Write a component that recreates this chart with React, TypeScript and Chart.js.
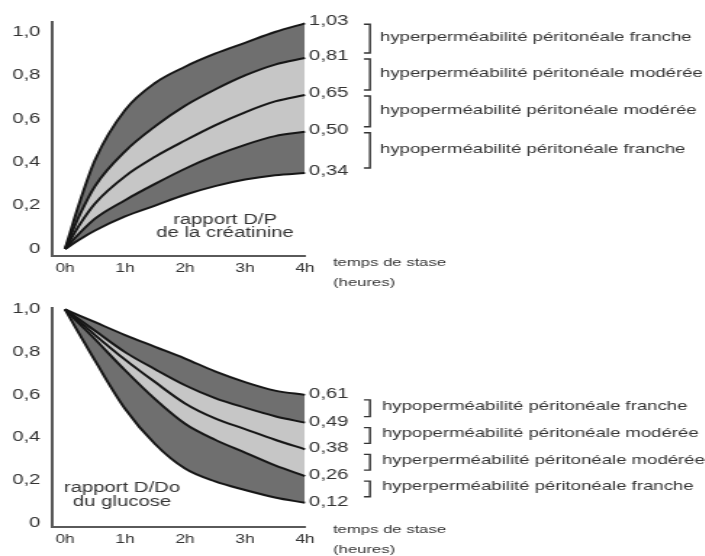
import React, { useEffect, useRef } from 'react';
import { Chart, registerables } from 'chart.js';

Chart.register(...registerables);

// ---------- data ----------
const hours = [0, 0.25, 0.5, 1, 1.5, 2, 2.5, 3, 3.5, 4];

const creatinine1 = [0, 0.22, 0.41, 0.64, 0.765, 0.84, 0.9, 0.95, 1.0, 1.04];
const creatinine2 = [0, 0.16, 0.29, 0.45, 0.565, 0.66, 0.735, 0.8, 0.85, 0.88];
const creatinine3 = [0, 0.115, 0.21, 0.335, 0.425, 0.5, 0.57, 0.63, 0.68, 0.71];
const creatinine4 = [0, 0.075, 0.14, 0.225, 0.3, 0.37, 0.43, 0.48, 0.52, 0.54];
const creatinine5 = [0, 0.045, 0.085, 0.15, 0.2, 0.25, 0.29, 0.32, 0.34, 0.35];

const glucose1 = [1.0, 0.97, 0.94, 0.88, 0.825, 0.77, 0.71, 0.66, 0.62, 0.6];
const glucose2 = [1.0, 0.95, 0.9, 0.8, 0.72, 0.645, 0.585, 0.54, 0.5, 0.47];
const glucose3 = [1.0, 0.94, 0.88, 0.765, 0.66, 0.56, 0.49, 0.44, 0.39, 0.345];
const glucose4 = [1.0, 0.93, 0.86, 0.715, 0.58, 0.465, 0.39, 0.33, 0.27, 0.22];
const glucose5 = [1.0, 0.88, 0.76, 0.535, 0.37, 0.255, 0.195, 0.155, 0.12, 0.095];

const creatinineEndLabels = ['1,03', '0,81', '0,65', '0,50', '0,34'];
const glucoseEndLabels = ['0,61', '0,49', '0,38', '0,26', '0,12'];

const creatinineBands = [
  'hyperperméabilité péritonéale franche',
  'hyperperméabilité péritonéale modérée',
  'hypoperméabilité péritonéale modérée',
  'hypoperméabilité péritonéale franche',
];
const glucoseBands = [
  'hypoperméabilité péritonéale franche',
  'hypoperméabilité péritonéale modérée',
  'hyperperméabilité péritonéale modérée',
  'hyperperméabilité péritonéale franche',
];

const creatinineTitle = ['rapport D/P', 'de la créatinine'];
const glucoseTitle = ['rapport D/Do', 'du glucose'];
const axisTitle = ['temps de stase', '(heures)'];

const xTickValues = [0, 1, 2, 3, 4];
const xTickLabels = ['0h', '1h', '2h', '3h', '4h'];
const yTickValues = [0, 0.2, 0.4, 0.6, 0.8, 1.0];
const yTickLabels = ['0', '0,2', '0,4', '0,6', '0,8', '1,0'];

// ---------- style ----------
const S = 1.45; // horizontal stretch of the picture
const PAGE_W = 705;
const W = Math.round(PAGE_W / S);
const DARK = '#6f6f6f';
const LIGHT = '#c6c6c6';
const LINE = '#161616';
const AXIS = '#5a5a5a';
const TEXT = '#333333';
const FONT = '"Liberation Sans", Arial, Helvetica, sans-serif';
const AREA_LEFT = 52;
const AREA_RIGHT = 305;
const X0 = 65;

type Panel = {
  series: number[][];
  endLabels: string[];
  bandLabels: string[];
  titleLines: string[];
  canvasTop: number;
  canvasH: number;
  areaTop: number;
  areaBottom: number;
  zeroY: number;
  pxPerUnit: number;
  titleX: number;
  titleY: number[];
  bracketIn: [number, number];
  descDx: number;
  descDy: number;
  labelDy: number;
  axisTitleY: number[];
};

const panels: Panel[] = [
  {
    series: [creatinine1, creatinine2, creatinine3, creatinine4, creatinine5],
    endLabels: creatinineEndLabels,
    bandLabels: creatinineBands,
    titleLines: creatinineTitle,
    canvasTop: 0,
    canvasH: 292,
    areaTop: 22,
    areaBottom: 256,
    zeroY: 249,
    pxPerUnit: 217,
    titleX: 225,
    titleY: [220, 233],
    bracketIn: [3, 3],
    descDx: 75,
    descDy: -1,
    labelDy: -2,
    axisTitleY: [263, 283],
  },
  {
    series: [glucose1, glucose2, glucose3, glucose4, glucose5],
    endLabels: glucoseEndLabels,
    bandLabels: glucoseBands,
    titleLines: glucoseTitle,
    canvasTop: 292,
    canvasH: 264,
    areaTop: 302,
    areaBottom: 527,
    zeroY: 523,
    pxPerUnit: 220,
    titleX: 122,
    titleY: [488, 502],
    bracketIn: [6, 5],
    descDx: 77,
    descDy: -2,
    labelDy: -1,
    axisTitleY: [530, 550],
  },
];

function makeAnnot(p: Panel) {
  return {
    id: 'annot',
    afterDraw(chart: any) {
      const ctx = chart.ctx as CanvasRenderingContext2D;
      const a = chart.chartArea;
      const off = p.canvasTop;
      ctx.save();
      ctx.fillStyle = TEXT;
      ctx.strokeStyle = TEXT;
      ctx.textBaseline = 'middle';
      ctx.textAlign = 'left';
      ctx.font = `14px ${FONT}`;
      const ys: number[] = [];
      chart.data.datasets.forEach((_: any, i: number) => {
        const meta = chart.getDatasetMeta(i);
        const pt = meta.data[meta.data.length - 1];
        const y = pt.y + p.labelDy;
        ys.push(y);
        ctx.fillText(p.endLabels[i], pt.x + 4 / S, y);
      });
      const bx = a.right + 65 / S;
      const tick = 6 / S;
      ctx.lineWidth = 1.4;
      ctx.font = `12.8px ${FONT}`;
      for (let i = 0; i < p.bandLabels.length; i++) {
        const t = ys[i] + p.bracketIn[0];
        const b = ys[i + 1] - p.bracketIn[1];
        ctx.beginPath();
        ctx.moveTo(bx - tick, t);
        ctx.lineTo(bx, t);
        ctx.lineTo(bx, b);
        ctx.lineTo(bx - tick, b);
        ctx.stroke();
        ctx.fillText(p.bandLabels[i], a.right + p.descDx / S, (t + b) / 2 + p.descDy);
      }
      ctx.font = `14px ${FONT}`;
      ctx.textAlign = 'center';
      p.titleLines.forEach((s, i) => {
        ctx.fillText(s, a.left + (p.titleX - AREA_LEFT) / S, p.titleY[i] - off);
      });
      ctx.font = `11.5px ${FONT}`;
      ctx.textAlign = 'left';
      axisTitle.forEach((s, i) => {
        ctx.fillText(s, a.right + 28 / S, p.axisTitleY[i] - off);
      });
      ctx.restore();
    },
  };
}

function makeConfig(p: Panel): any {
  const fills = [DARK, LIGHT, LIGHT, DARK, 'rgba(0,0,0,0)'];
  const datasets = p.series.map((vals, i) => ({
    data: hours.map((h, j) => ({ x: h, y: vals[j] })),
    borderColor: LINE,
    borderWidth: 2,
    pointRadius: 0,
    cubicInterpolationMode: 'monotone',
    fill: i < p.series.length - 1 ? '+1' : false,
    backgroundColor: fills[i],
    clip: false,
  }));
  const yMin = -(p.areaBottom - p.zeroY) / p.pxPerUnit;
  const yMax = (p.zeroY - p.areaTop) / p.pxPerUnit;
  const pxPerHour = (AREA_RIGHT - X0) / 4;
  const xMin = -(X0 - AREA_LEFT) / pxPerHour;
  return {
    type: 'line',
    data: { datasets },
    options: {
      animation: false,
      responsive: false,
      devicePixelRatio: 1,
      layout: {
        padding: { left: 0, right: W - AREA_RIGHT / S, top: p.areaTop - p.canvasTop, bottom: 0 },
      },
      plugins: {
        legend: { display: false },
        tooltip: { enabled: false },
        filler: { drawTime: 'beforeDatasetsDraw' },
      },
      scales: {
        x: {
          type: 'linear',
          min: xMin,
          max: 4,
          grid: { display: false, drawTicks: false },
          border: { display: true, color: AXIS, width: 2 },
          afterBuildTicks: (s: any) => {
            s.ticks = xTickValues.map((v) => ({ value: v }));
          },
          afterFit: (s: any) => {
            s.height = p.canvasTop + p.canvasH - p.areaBottom;
          },
          ticks: {
            callback: (_v: any, i: number) => xTickLabels[i],
            font: { size: 12, family: FONT },
            color: TEXT,
            padding: 5,
            maxRotation: 0,
            autoSkip: false,
          },
        },
        y: {
          type: 'linear',
          min: yMin,
          max: yMax,
          grid: { display: false, drawTicks: false },
          border: { display: true, color: AXIS, width: 2 },
          afterBuildTicks: (s: any) => {
            s.ticks = yTickValues.map((v) => ({ value: v }));
          },
          afterFit: (s: any) => {
            s.width = AREA_LEFT / S;
          },
          ticks: {
            callback: (_v: any, i: number) => yTickLabels[i],
            font: { size: 14, family: FONT },
            color: TEXT,
            padding: 8,
            autoSkip: false,
          },
        },
      },
    },
    plugins: [makeAnnot(p)],
  };
}

function PanelChart({ p }: { p: Panel }) {
  const ref = useRef<HTMLCanvasElement | null>(null);
  useEffect(() => {
    if (!ref.current) return;
    const chart = new Chart(ref.current, makeConfig(p));
    return () => chart.destroy();
  }, [p]);
  return (
    <canvas
      ref={ref}
      width={W}
      height={p.canvasH}
      style={{
        position: 'absolute',
        left: 0,
        top: p.canvasTop,
        width: `${W}px`,
        height: `${p.canvasH}px`,
        transform: `scaleX(${S})`,
        transformOrigin: '0 0',
      }}
    />
  );
}

export default function App() {
  return (
    <div
      style={{
        position: 'absolute',
        left: 0,
        top: 0,
        width: PAGE_W,
        height: 556,
        overflow: 'hidden',
        background: '#ffffff',
      }}
    >
      {panels.map((p, i) => (
        <PanelChart key={i} p={p} />
      ))}
    </div>
  );
}
